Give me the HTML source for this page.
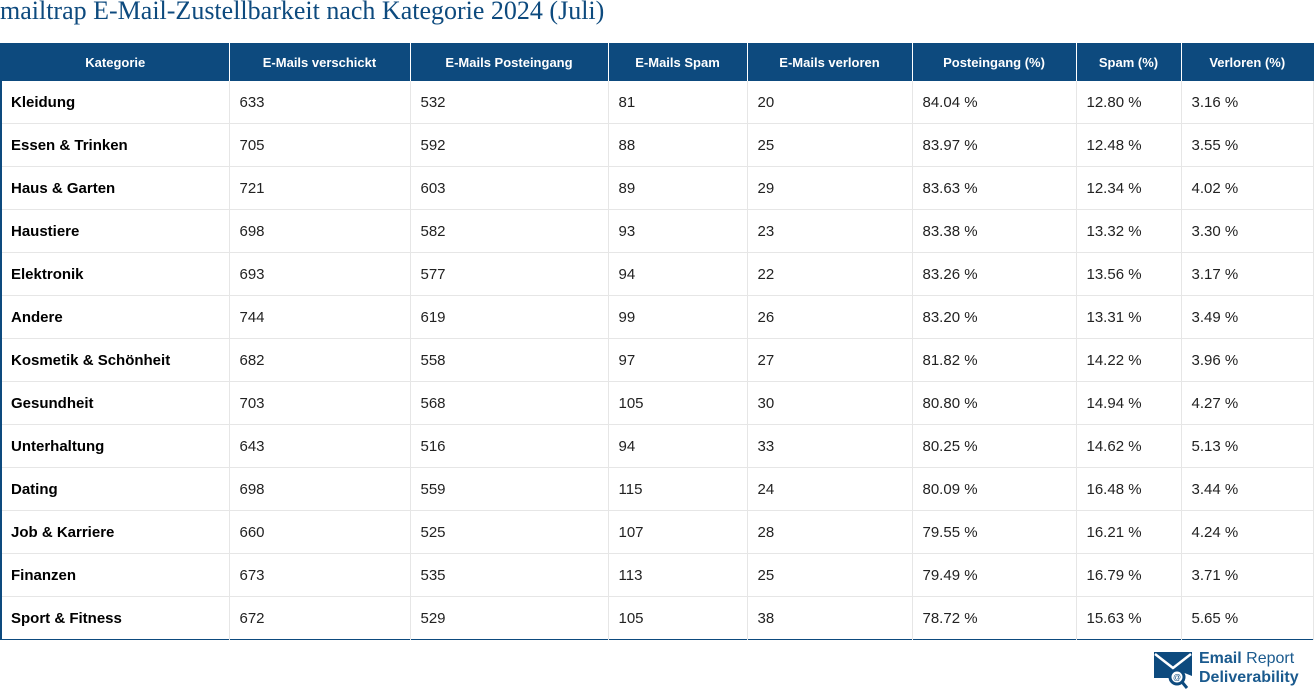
<!DOCTYPE html>
<html><head><meta charset="utf-8"><style>
body{margin:0;width:1314px;height:689px;background:#fff;position:relative;overflow:hidden;font-family:"Liberation Sans",sans-serif}
.t{position:absolute;left:0;top:-4px;font-family:"Liberation Serif",serif;font-size:26px;color:#0d4a7e;white-space:nowrap}
table{position:absolute;left:0;top:43px;border-collapse:collapse;table-layout:fixed;width:1314px;border-left:2px solid #0d4a7e;border-right:1px solid #0d4a7e;border-bottom:1px solid #0d4a7e}
th{background:#0d4a7e;color:#fff;font-size:13px;font-weight:bold;height:38px;padding:0;border-right:1px solid #fff;text-align:center}
th:last-child{border-right:none}
td{height:41px;border-bottom:1px solid #e6e6e6;border-right:1px solid #e6e6e6;font-size:15px;color:#222;padding:1px 0 0 10px}
td:first-child{font-weight:bold;color:#000;padding-left:9px}
tr:last-child td{border-bottom:none}
.logo{position:absolute;left:1154px;top:650px}
.lt{position:absolute;left:1199px;top:649px;font-size:16px;font-weight:bold;color:#1a5a8e;line-height:19px}
</style></head><body>
<div class="t">mailtrap E-Mail-Zustellbarkeit nach Kategorie 2024 (Juli)</div>
<table>
<colgroup><col style="width:228px"><col style="width:181px"><col style="width:198px"><col style="width:139px"><col style="width:165px"><col style="width:164px"><col style="width:105px"><col></colgroup>
<tr><th>Kategorie</th><th>E-Mails verschickt</th><th>E-Mails Posteingang</th><th>E-Mails Spam</th><th>E-Mails verloren</th><th>Posteingang (%)</th><th>Spam (%)</th><th>Verloren (%)</th></tr>
<tr><td>Kleidung</td><td>633</td><td>532</td><td>81</td><td>20</td><td>84.04 %</td><td>12.80 %</td><td>3.16 %</td></tr>
<tr><td>Essen &amp; Trinken</td><td>705</td><td>592</td><td>88</td><td>25</td><td>83.97 %</td><td>12.48 %</td><td>3.55 %</td></tr>
<tr><td>Haus &amp; Garten</td><td>721</td><td>603</td><td>89</td><td>29</td><td>83.63 %</td><td>12.34 %</td><td>4.02 %</td></tr>
<tr><td>Haustiere</td><td>698</td><td>582</td><td>93</td><td>23</td><td>83.38 %</td><td>13.32 %</td><td>3.30 %</td></tr>
<tr><td>Elektronik</td><td>693</td><td>577</td><td>94</td><td>22</td><td>83.26 %</td><td>13.56 %</td><td>3.17 %</td></tr>
<tr><td>Andere</td><td>744</td><td>619</td><td>99</td><td>26</td><td>83.20 %</td><td>13.31 %</td><td>3.49 %</td></tr>
<tr><td>Kosmetik &amp; Schönheit</td><td>682</td><td>558</td><td>97</td><td>27</td><td>81.82 %</td><td>14.22 %</td><td>3.96 %</td></tr>
<tr><td>Gesundheit</td><td>703</td><td>568</td><td>105</td><td>30</td><td>80.80 %</td><td>14.94 %</td><td>4.27 %</td></tr>
<tr><td>Unterhaltung</td><td>643</td><td>516</td><td>94</td><td>33</td><td>80.25 %</td><td>14.62 %</td><td>5.13 %</td></tr>
<tr><td>Dating</td><td>698</td><td>559</td><td>115</td><td>24</td><td>80.09 %</td><td>16.48 %</td><td>3.44 %</td></tr>
<tr><td>Job &amp; Karriere</td><td>660</td><td>525</td><td>107</td><td>28</td><td>79.55 %</td><td>16.21 %</td><td>4.24 %</td></tr>
<tr><td>Finanzen</td><td>673</td><td>535</td><td>113</td><td>25</td><td>79.49 %</td><td>16.79 %</td><td>3.71 %</td></tr>
<tr><td>Sport &amp; Fitness</td><td>672</td><td>529</td><td>105</td><td>38</td><td>78.72 %</td><td>15.63 %</td><td>5.65 %</td></tr>
</table>
<svg class="logo" width="40" height="40" viewBox="0 0 40 40"><polygon points="0,2 38,2 38,26 28,22 22,28 0,28" fill="#0d4a7e"/><polyline points="1,4 19,18 37,4" fill="none" stroke="#fff" stroke-width="2.5"/><circle cx="23" cy="27" r="7" fill="#fff" stroke="#0d4a7e" stroke-width="3"/><text x="23" y="30" font-size="8" text-anchor="middle" fill="#0d4a7e" font-family="Liberation Sans">@</text><line x1="28" y1="32" x2="33" y2="38" stroke="#0d4a7e" stroke-width="3"/></svg>
<div class="lt">Email <span style="font-weight:normal">Report</span><br>Deliverability</div>
</body></html>
